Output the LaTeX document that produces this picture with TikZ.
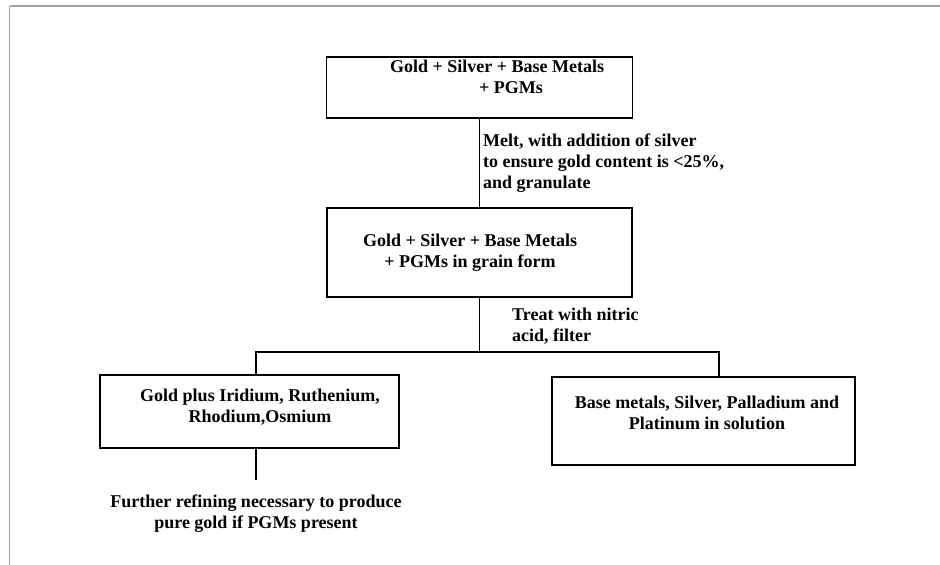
\documentclass[tikz,border=0pt]{standalone}
\usepackage{fontspec}
\setmainfont{Liberation Serif}
\begin{document}
\begin{tikzpicture}[x=1pt,y=-1pt,
  box/.style={draw=black, line width=1.4pt, inner sep=0pt},
  lbl/.style={font=\fontsize{18}{21}\selectfont\bfseries, inner sep=0pt, align=center},
  note/.style={font=\fontsize{18}{21}\selectfont\bfseries, inner sep=0pt, align=left, anchor=north west},
  link/.style={draw=black, line width=1.1pt},
  framecol/.style={draw=black!36}]
\useasboundingbox (0,0) rectangle (940,565);

% page frame (top and left rules only)
\coordinate (fTL) at (9.5,6);
\coordinate (fTR) at (940,6);
\coordinate (fBL) at (9.5,565);
\draw[framecol, line width=2pt] (fTL) -- (fTR);
\draw[framecol, line width=1.3pt] (fTL) -- (fBL);

% boxes
\node[box, minimum width=306, minimum height=61] (b1) at (479.5,87.5) {};
\node[box, minimum width=305, minimum height=89] (b2) at (479.5,252.5) {};
\node[box, minimum width=299, minimum height=73] (lb) at (249.5,411.5) {};
\node[box, minimum width=303, minimum height=88] (rb) at (703.5,421) {};

% box texts
\node[lbl] (t1) at (497,77) {Gold + Silver + Base Metals\\\hspace*{28pt}+ PGMs};
\node[lbl] (t2) at (470,252.5) {Gold + Silver + Base Metals\\+ PGMs in grain form};
\node[lbl] (t3) at (260,407.5) {Gold plus Iridium, Ruthenium,\\Rhodium,Osmium};
\node[lbl] (t4) at (707,413) {Base metals, Silver, Palladium and\\Platinum in solution};
\node[lbl] (t5) at (256,514) {Further refining necessary to produce\\pure gold if PGMs present};

% step notes
\node[note] (n1) at (483,134) {Melt, with addition of silver\\to ensure gold content is <25\%,\\and granulate};
\node[note] (n2) at (512,308) {Treat with nitric\\acid, filter};

% connectors
\coordinate (j) at (479.5,352);
\coordinate (jl) at (256,352);
\coordinate (jr) at (719,352);
\coordinate (fe) at (256,480);
\draw[link] (b1.south) -- (b2.north);
\draw[link] (b2.south) -- (j);
\draw[link] (lb.north -| jl) -- (jl) -- (jr) -- (rb.north -| jr);
\draw[link] (lb.south -| fe) -- (fe);
\end{tikzpicture}
\end{document}
